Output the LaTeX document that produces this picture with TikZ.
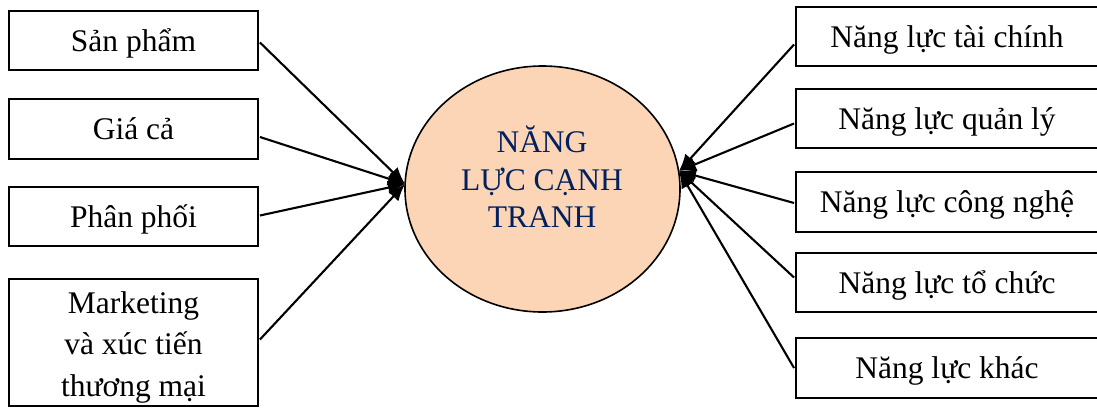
\documentclass[tikz,border=0pt]{standalone}
\usepackage{fontspec}
\setmainfont{Liberation Serif}
\usetikzlibrary{shapes.geometric,arrows.meta}
\definecolor{peach}{HTML}{FBD5B5}
\definecolor{navy}{HTML}{002060}
\begin{document}
\begin{tikzpicture}[x=1pt,y=-1pt,
  box/.style={draw, line width=1.9pt, inner sep=0pt, font=\fontsize{31.5}{41.5}\selectfont, align=center},
  lbox/.style={box, minimum width=249pt},
  rbox/.style={box, minimum width=302pt},
  one/.style={text height=21pt, text depth=0pt},
  conn/.style={line width=2.1pt, -{Latex[length=17pt,width=14pt]}}]
\useasboundingbox (0,0) rectangle (1097,416);
\node[ellipse, draw, line width=1.6pt, fill=peach, minimum width=275pt, minimum height=246pt, inner sep=0pt] (E) at (542.5,189) {};
\node[text=navy, align=center, font=\fontsize{31.5}{37.5}\selectfont] (Et) at (542,177) {NĂNG\\LỰC CẠNH\\TRANH};
% left boxes
\node[lbox, one, minimum height=59pt] (l1) at (133.5,40.5) {Sản phẩm};
\node[lbox, one, minimum height=60pt] (l2) at (133.5,129) {Giá cả};
\node[lbox, one, minimum height=59pt] (l3) at (133.5,216.5) {Phân phối};
\node[lbox, minimum height=127pt] (l4) at (133.5,342.5) {};
\node[align=center, font=\fontsize{31.5}{41.5}\selectfont, inner sep=0pt] (l4t) at (133.5,347) {Marketing\\và xúc tiến\\thương mại};
% right boxes
\node[rbox, one, minimum height=59pt] (r1) at (947,36.5) {Năng lực tài chính};
\node[rbox, one, minimum height=59pt] (r2) at (947,118.5) {Năng lực quản lý};
\node[rbox, one, minimum height=60pt] (r3) at (947,202) {Năng lực công nghệ};
\node[rbox, one, minimum height=59pt] (r4) at (947,282.5) {Năng lực tổ chức};
\node[rbox, one, minimum height=60pt] (r5) at (947,368) {Năng lực khác};
\coordinate (L) at (405,184);
\coordinate (R) at (679,171);
\draw[conn] ([xshift=1pt,yshift=-2pt]l1.east) -- (L);
\draw[conn] ([xshift=1pt,yshift=-8pt]l2.east) -- (L);
\draw[conn] ([xshift=1pt,yshift=1pt]l3.east) -- (L);
\draw[conn] ([xshift=1pt,yshift=3pt]l4.east) -- (L);
\draw[conn] ([xshift=-1pt,yshift=-8pt]r1.west) -- (R);
\draw[conn] ([xshift=-1pt,yshift=-5pt]r2.west) -- (R);
\draw[conn] ([xshift=-1pt,yshift=-1pt]r3.west) -- (R);
\draw[conn] ([xshift=-1pt,yshift=5pt]r4.west) -- (R);
\draw[conn] ([xshift=-1pt]r5.west) -- (R);
\end{tikzpicture}
\end{document}
